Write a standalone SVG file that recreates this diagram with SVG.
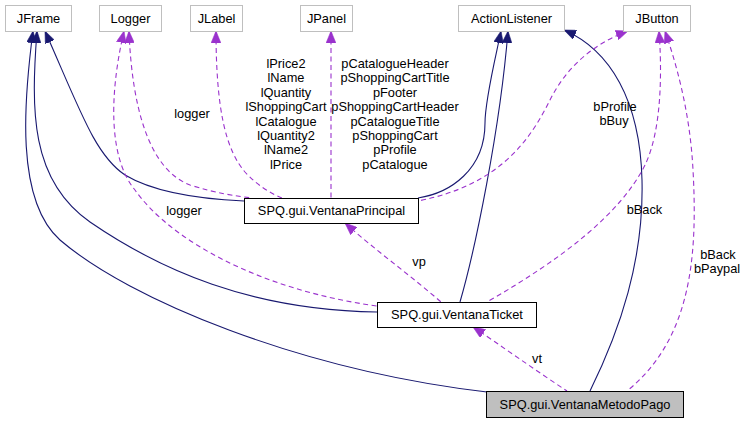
<svg xmlns="http://www.w3.org/2000/svg" width="747" height="423" viewBox="0 0 747 423">
<style>
text{font-family:"Liberation Sans",Arial,Helvetica,sans-serif;font-size:12.8px;fill:#000;}
.n text,.lbl{text-anchor:middle;}
.ext{fill:#fff;stroke:#bfbfbf;stroke-width:1;}
.cls{fill:#fff;stroke:#000;stroke-width:1;}
.cur{fill:#bfbfbf;stroke:#000;stroke-width:1;}
.inh{fill:none;stroke:#191970;stroke-width:1.1;marker-start:url(#ab);}
.use{fill:none;stroke:#9a32cd;stroke-width:1.1;stroke-dasharray:5,3.5;marker-start:url(#ap);}
</style>
<defs>
<marker id="ab" markerUnits="userSpaceOnUse" markerWidth="12" markerHeight="10" viewBox="0 0 11 9" refX="11" refY="4.5" orient="auto-start-reverse"><path d="M0,0 L11,4.5 L0,9 z" fill="#191970" stroke="#191970" stroke-width="0.5"/></marker>
<marker id="ap" markerUnits="userSpaceOnUse" markerWidth="12" markerHeight="10" viewBox="0 0 11 9" refX="11" refY="4.5" orient="auto-start-reverse"><path d="M0,0 L11,4.5 L0,9 z" fill="#9a32cd" stroke="#9a32cd" stroke-width="0.5"/></marker>
</defs>
<g id="edges">
<path class="inh" d="M 33,31 C 24,100 15,200 60,240 C 130,300 300,370 487,392"/>
<path class="inh" d="M 37,31 C 31,110 30,180 90,222 C 160,270 250,310 377,312"/>
<path class="inh" d="M 45,31 C 80,110 95,155 125,175 C 155,193 200,199 244,201"/>
<path class="inh" d="M 501,31 C 495,60 485,100 485,123 C 485,170 450,193 418,198"/>
<path class="inh" d="M 508,31 C 500,130 475,250 460,302"/>
<path class="inh" d="M 564,30 C 610,50 640,100 642,180 C 644,260 620,330 590,391"/>
<path class="use" d="M 129,31 C 132,110 150,170 190,185 C 215,193 235,196 252,198"/>
<path class="use" d="M 124,31 C 108,100 110,160 135,190 C 170,240 260,290 377,306"/>
<path class="use" d="M 216,31 C 216,110 226,150 245,172 C 258,186 270,193 282,198"/>
<path class="use" d="M 331,31 L 331,198"/>
<path class="use" d="M 628,31 C 590,45 565,70 550,100 C 530,140 500,185 418,201"/>
<path class="use" d="M 659,31 C 662,70 662,130 645,165 C 620,215 560,260 487,302"/>
<path class="use" d="M 665,31 C 675,60 690,110 693,170 C 698,260 690,340 627,391"/>
<path class="use" d="M 345,223 C 375,250 410,275 441,302"/>
<path class="use" d="M 473,327 C 500,345 535,370 567,391"/>
<text class="lbl" x="192" y="117.5">logger</text>
<text class="lbl" x="184" y="214.5">logger</text>
<text class="lbl" x="286" y="68">lPrice2<tspan x="286" dy="14.4">lName</tspan><tspan x="286" dy="14.4">lQuantity</tspan><tspan x="286" dy="14.4">lShoppingCart</tspan><tspan x="286" dy="14.4">lCatalogue</tspan><tspan x="286" dy="14.4">lQuantity2</tspan><tspan x="286" dy="14.4">lName2</tspan><tspan x="286" dy="14.4">lPrice</tspan></text>
<text class="lbl" x="395" y="68">pCatalogueHeader<tspan x="395" dy="14.4">pShoppingCartTitle</tspan><tspan x="395" dy="14.4">pFooter</tspan><tspan x="395" dy="14.4">pShoppingCartHeader</tspan><tspan x="395" dy="14.4">pCatalogueTitle</tspan><tspan x="395" dy="14.4">pShoppingCart</tspan><tspan x="395" dy="14.4">pProfile</tspan><tspan x="395" dy="14.4">pCatalogue</tspan></text>
<text class="lbl" x="615" y="110.5">bProfile<tspan x="614" dy="14.4">bBuy</tspan></text>
<text class="lbl" x="644.5" y="213.5">bBack</text>
<text class="lbl" x="718" y="258.5">bBack<tspan x="717" dy="14.4">bPaypal</tspan></text>
<text class="lbl" x="419" y="266">vp</text>
<text class="lbl" x="537" y="363">vt</text>
</g>
<g id="JFrame" class="n"><rect class="ext" x="5.5" y="5.5" width="66" height="26"/><text x="38.5" y="22.5">JFrame</text></g>
<g id="Logger" class="n"><rect class="ext" x="99.5" y="5.5" width="62" height="26"/><text x="130.5" y="22.5">Logger</text></g>
<g id="JLabel" class="n"><rect class="ext" x="190.5" y="5.5" width="52" height="26"/><text x="216.5" y="22.5">JLabel</text></g>
<g id="JPanel" class="n"><rect class="ext" x="300.5" y="5.5" width="52" height="26"/><text x="326.5" y="22.5">JPanel</text></g>
<g id="ActionListener" class="n"><rect class="ext" x="458.5" y="5.5" width="106" height="26"/><text x="511.5" y="22.5">ActionListener</text></g>
<g id="JButton" class="n"><rect class="ext" x="623.5" y="5.5" width="67" height="26"/><text x="657" y="22.5">JButton</text></g>
<g id="VentanaPrincipal" class="n"><rect class="cls" x="244.5" y="198.5" width="174" height="25"/><text x="331.5" y="215">SPQ.gui.VentanaPrincipal</text></g>
<g id="VentanaTicket" class="n"><rect class="cls" x="377.5" y="302.5" width="159" height="25"/><text x="457" y="319">SPQ.gui.VentanaTicket</text></g>
<g id="VentanaMetodoPago" class="n"><rect class="cur" x="486.5" y="391.5" width="197" height="26"/><text x="585" y="408.5">SPQ.gui.VentanaMetodoPago</text></g>
</svg>
